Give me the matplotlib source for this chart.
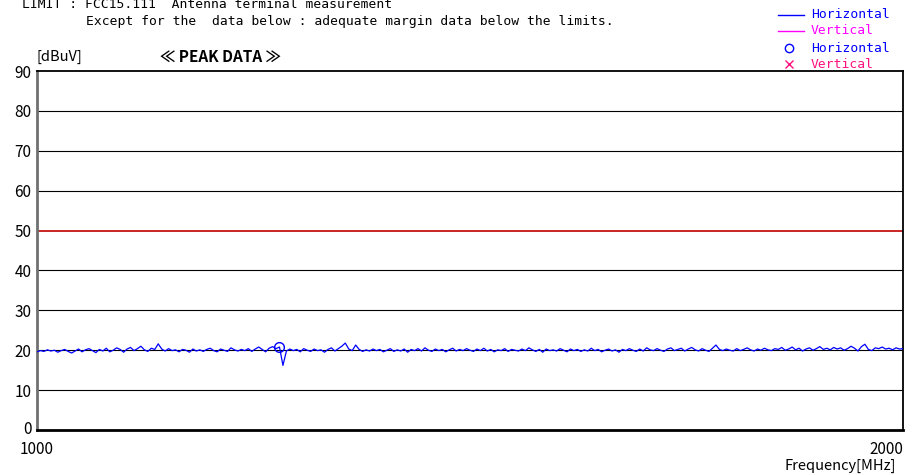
import numpy as np
import matplotlib
matplotlib.use("Agg")
import matplotlib.pyplot as plt
from matplotlib.transforms import ScaledTranslation

freq_start = 1000
freq_stop = 2000
level_h = [
    19.6, 19.9, 19.7, 20.1, 19.8, 20.0, 19.5, 19.9, 20.2, 19.7,
    19.3, 19.8, 20.3, 19.6, 20.1, 20.4, 19.9, 19.4, 20.2, 19.8,
    20.5, 19.6, 20.0, 20.6, 20.2, 19.5, 20.3, 20.7, 19.9, 20.4,
    21.0, 20.1, 19.7, 20.5, 20.2, 21.6, 20.3, 19.8, 20.4, 19.9,
    20.1, 19.6, 20.2, 20.0, 19.5, 20.3, 19.8, 20.1, 19.7, 20.2,
    20.5, 19.9, 19.6, 20.3, 20.0, 19.7, 20.6, 20.1, 19.8, 20.2,
    19.9, 20.4, 19.7, 20.3, 20.8, 20.2, 19.6, 20.5, 20.9, 20.4,
    20.8, 16.2, 19.8, 20.3, 19.9, 20.2, 19.6, 20.4, 20.0, 19.7,
    20.3, 19.9, 20.1, 19.5, 20.2, 20.6, 19.8, 20.4, 21.0, 21.8,
    20.3, 19.9, 21.3, 20.2, 19.7, 20.1, 19.8, 20.3, 19.9, 20.2,
    19.6, 20.0, 20.4, 19.7, 20.1, 19.8, 20.3, 19.5, 20.2, 19.9,
    20.4, 19.8, 20.6, 20.0, 19.7, 20.3, 19.9, 20.2, 19.6, 20.1,
    20.5, 19.8, 20.2, 19.9, 20.4, 20.0, 19.7, 20.3, 19.9, 20.5,
    19.8, 20.2, 19.6, 20.1, 19.9, 20.4, 19.7, 20.2, 20.0, 19.8,
    20.3, 19.9, 20.6, 20.1, 19.7, 20.2, 19.5, 20.3, 19.9, 20.1,
    19.8, 20.4, 20.0, 19.6, 20.3, 19.9, 20.2, 19.7, 20.1, 19.8,
    20.5, 19.9, 20.2, 19.6, 20.0, 20.3, 19.8, 20.1, 19.5, 20.2,
    19.9, 20.4, 20.0, 19.7, 20.3, 19.8, 20.6, 20.1, 19.9, 20.4,
    20.0, 19.7, 20.3, 20.6, 19.9, 20.2, 20.5, 19.8, 20.3, 20.7,
    20.1, 19.8, 20.4, 20.0, 19.7, 20.5, 21.3, 20.2, 19.9, 20.3,
    20.0, 19.8, 20.4, 19.9, 20.2, 20.6, 20.1, 19.8, 20.3, 20.0,
    20.5, 20.1, 19.9, 20.4, 20.2, 20.7, 20.0, 20.3, 20.8, 20.1,
    20.5, 19.8, 20.3, 20.6, 20.0, 20.4, 20.9, 20.2, 20.5, 20.1,
    20.7, 20.3, 20.6, 20.0, 20.4, 21.0, 20.5, 19.8, 20.9, 21.5,
    20.2, 19.9, 20.6, 20.4, 20.8, 20.3, 20.5, 20.1, 20.6, 20.3,
    20.4,
]
limit_level = 50
peak_freq_h = [1280]
peak_level_h = [20.8]
y_ticks = [0, 10, 20, 30, 40, 50, 60, 70, 80, 90]
x_tick_labels = ["1000", "2000"]

freqs = np.linspace(freq_start, freq_stop, len(level_h))

mono = "DejaVu Sans Mono"
cjk = ["Noto Sans CJK JP", "DejaVu Sans"]

fig = plt.figure(figsize=(9.19, 4.75), dpi=100)
ax = fig.add_axes([37 / 919, 45 / 475, 866 / 919, 359 / 475])

for yv in y_ticks[1:-1]:
    if yv != limit_level:
        ax.axhline(yv, color="black", lw=0.8, zorder=1)
ax.axhline(limit_level, color="#C00000", lw=1.2, zorder=2)
ax.plot(freqs, level_h, color="#0000FF", lw=0.9, zorder=3)
ax.plot(peak_freq_h, peak_level_h, "o", mfc="none", mec="#0000FF", ms=7, mew=1.0, zorder=4)

ax.set_xlim(freq_start, freq_stop)
ax.set_ylim(0, 90)
ax.set_yticks(y_ticks)
ylabels = ax.set_yticklabels([str(v) for v in y_ticks], family=cjk, fontsize=11)
ax.set_xticks([freq_start, freq_stop])
xlabels = ax.set_xticklabels(x_tick_labels, family=cjk, fontsize=11)
xlabels[-1].set_horizontalalignment("right")
ax.tick_params(length=0, pad=4)
ax.tick_params(axis="x", pad=8)
# lift the "0" label slightly, as in the reference
ylabels[0].set_transform(ylabels[0].get_transform() + ScaledTranslation(0, 2 / 72, fig.dpi_scale_trans))
for s in ["top", "right", "bottom"]:
    ax.spines[s].set_color("black")
    ax.spines[s].set_linewidth(1.3)
ax.spines["left"].set_color("#707070")
ax.spines["left"].set_linewidth(2.0)
ax.spines["bottom"].set_linewidth(2.0)

fig.text(22 / 919, 1 - 5 / 475, "LIMIT : FCC15.111  Antenna terminal measurement",
         family=mono, fontsize=9.4, va="center", ha="left")
fig.text(86 / 919, 1 - 21 / 475, "Except for the  data below : adequate margin data below the limits.",
         family=mono, fontsize=9.4, va="center", ha="left")
fig.text(37 / 919, 1 - 57 / 475, "[dBuV]", family=cjk, fontsize=10.5, va="center", ha="left")
fig.text(160 / 919, 1 - 57 / 475, "≪ PEAK DATA ≫", family=cjk, fontsize=11,
         weight="bold", va="center", ha="left")
fig.text(896 / 919, 1 - 466 / 475, "Frequency[MHz]", family=cjk, fontsize=10.5,
         va="center", ha="right")

# legend (manual)
rows = [15, 31, 48, 64]
fig.lines.append(plt.Line2D([778 / 919, 804 / 919], [1 - rows[0] / 475] * 2,
                            color="#0000FF", lw=1.0, transform=fig.transFigure))
fig.lines.append(plt.Line2D([778 / 919, 804 / 919], [1 - rows[1] / 475] * 2,
                            color="#FF00FF", lw=1.0, transform=fig.transFigure))
fig.lines.append(plt.Line2D([789 / 919], [1 - rows[2] / 475], marker="o", mfc="none",
                            mec="#0000FF", ms=6, mew=1.0, transform=fig.transFigure))
fig.lines.append(plt.Line2D([789 / 919], [1 - rows[3] / 475], marker="x",
                            color="#FF1080", ms=6, mew=1.0, transform=fig.transFigure))
leg_labels = ["Horizontal", "Vertical", "Horizontal", "Vertical"]
leg_colors = ["#0000FF", "#FF00FF", "#0000FF", "#FF1080"]
for r, lab, c in zip(rows, leg_labels, leg_colors):
    fig.text(811 / 919, 1 - r / 475, lab, family=mono, fontsize=9.4, color=c,
             va="center", ha="left")

fig.savefig("out.png", dpi=100)
